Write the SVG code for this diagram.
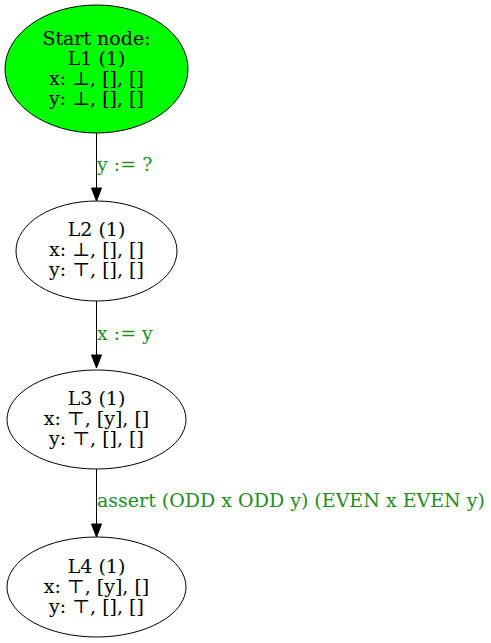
<svg xmlns="http://www.w3.org/2000/svg" width="491" height="643" viewBox="0 0 491 643">
<style>
.bg{fill:#ffffff}
.node ellipse{stroke:#000000;stroke-width:1;fill:#ffffff}
.node.start ellipse{fill:#00ff00}
.node text{font-family:"DejaVu Serif","Liberation Serif",serif;font-size:19px;fill:#000000;text-anchor:middle}
.edge line{stroke:#000000;stroke-width:1}
.edge polygon{fill:#000000;stroke:#000000;stroke-width:1}
.edge text{font-family:"DejaVu Serif","Liberation Serif",serif;font-size:19px;fill:#228b22;text-anchor:start}
</style>
<rect class="bg" x="0" y="0" width="491" height="643"/>
<g id="edges">
<g class="edge" id="e1">
<line x1="96.5" y1="133" x2="96.5" y2="188"/>
<polygon points="91.5,188 101.5,188 96.5,201"/>
<text x="97" y="171">y := ?</text>
</g>
<g class="edge" id="e2">
<line x1="96.5" y1="301" x2="96.5" y2="355"/>
<polygon points="91.5,355 101.5,355 96.5,368"/>
<text x="97" y="340">x := y</text>
</g>
<g class="edge" id="e3">
<line x1="96.5" y1="469" x2="96.5" y2="524"/>
<polygon points="91.5,524 101.5,524 96.5,537"/>
<text x="97" y="507">assert (ODD x ODD y) (EVEN x EVEN y)</text>
</g>
</g>
<g class="node start" id="L1">
<ellipse cx="96.5" cy="69" rx="91.5" ry="64"/>
<text x="96.5" y="44.5">Start node:</text>
<text x="96.5" y="64.5">L1 (1)</text>
<text x="96.5" y="84.5">x: ⊥, [], []</text>
<text x="96.5" y="104.5">y: ⊥, [], []</text>
</g>
<g class="node" id="L2">
<ellipse cx="96.5" cy="251" rx="80.5" ry="50"/>
<text x="96.5" y="236">L2 (1)</text>
<text x="96.5" y="256">x: ⊥, [], []</text>
<text x="96.5" y="276">y: ⊤, [], []</text>
</g>
<g class="node" id="L3">
<ellipse cx="96.5" cy="419.5" rx="89.5" ry="49.5"/>
<text x="96.5" y="405">L3 (1)</text>
<text x="96.5" y="425">x: ⊤, [y], []</text>
<text x="96.5" y="445">y: ⊤, [], []</text>
</g>
<g class="node" id="L4">
<ellipse cx="96.5" cy="587" rx="89.5" ry="50"/>
<text x="96.5" y="572.5">L4 (1)</text>
<text x="96.5" y="592.5">x: ⊤, [y], []</text>
<text x="96.5" y="612.5">y: ⊤, [], []</text>
</g>
</svg>
